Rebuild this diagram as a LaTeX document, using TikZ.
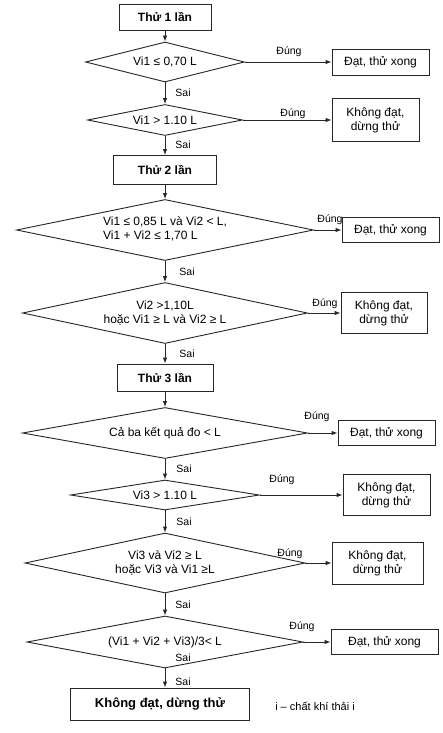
\documentclass[tikz,border=0pt]{standalone}
\usepackage{fontspec}
\setmainfont{Liberation Sans}
\usetikzlibrary{shapes.geometric,arrows.meta}
\begin{document}
\begin{tikzpicture}[x=1pt,y=-1pt,
  every node/.style={inner sep=0pt},
  line/.style={draw=black!85, line width=0.9pt},
  arr/.style={line, -{Latex[length=6pt,width=4.5pt]}},
  dia/.style={diamond, draw=black!85, line width=0.9pt, aspect=5, align=center,
              font=\fontsize{12}{14}\selectfont},
  headbox/.style={rectangle, draw=black!85, line width=0.9pt, align=center,
              font=\fontsize{12}{14}\selectfont\bfseries},
  resbox/.style={rectangle, draw=black!85, line width=0.9pt, align=center,
              font=\fontsize{12}{14}\selectfont},
  lbl/.style={font=\fontsize{10.5}{12}\selectfont}]
\useasboundingbox[fill=white] (0,0) rectangle (443,733);

% --- first test
\node[headbox, minimum width=92, minimum height=26] (t1) at (165,17) {Thử 1 lần};
\node[dia, minimum width=159, minimum height=40] (d1) at (165,62) {Vi1 ≤ 0,70 L};
\node[resbox, minimum width=97, minimum height=26] (r1) at (380.5,62) {Đạt, thử xong};
\node[dia, minimum width=155, minimum height=31] (d2) at (165,120) {Vi1 > 1.10 L};
\node[resbox, minimum width=87, minimum height=43] (r2) at (375.5,120) {Không đạt,\\dừng thử};

% --- second test
\node[headbox, minimum width=103, minimum height=29] (t2) at (165,170) {Thử 2 lần};
\node[dia, minimum width=297, minimum height=61] (d3) at (165,230)
  {\begin{tabular}{@{}l@{}}Vi1 ≤ 0,85 L và Vi2 < L,\\ Vi1 + Vi2 ≤ 1,70 L\end{tabular}};
\node[resbox, minimum width=97, minimum height=25] (r3) at (390.5,230) {Đạt, thử xong};
\node[dia, minimum width=285, minimum height=61] (d4) at (165,313) {Vi2 >1,10L\\hoặc Vi1 ≥ L và Vi2 ≥ L};
\node[resbox, minimum width=86, minimum height=41] (r4) at (384,313) {Không đạt,\\dừng thử};

% --- third test
\node[headbox, minimum width=96, minimum height=27] (t3) at (165,377.5) {Thử 3 lần};
\node[dia, minimum width=285, minimum height=51] (d5) at (165,433) {Cả ba kết quả đo < L};
\node[resbox, minimum width=97, minimum height=25] (r5) at (386.5,433) {Đạt, thử xong};
\node[dia, minimum width=189, minimum height=30] (d6) at (165,495) {Vi3 > 1.10 L};
\node[resbox, minimum width=87, minimum height=41] (r6) at (386.5,495) {Không đạt,\\dừng thử};
\node[dia, minimum width=280, minimum height=60] (d7) at (165,563) {Vi3 và Vi2 ≥ L\\hoặc Vi3 và Vi1 ≥L};
\node[resbox, minimum width=91, minimum height=42] (r7) at (377.5,563) {Không đạt,\\dừng thử};
\node[dia, minimum width=276, minimum height=52] (d8) at (165,642) {(Vi1 + Vi2 + Vi3)/3< L};
\node[resbox, minimum width=107, minimum height=25] (r8) at (384.5,642) {Đạt, thử xong};
\node[headbox, minimum width=179, minimum height=32, font=\fontsize{13}{15}\selectfont\bfseries] (fin) at (160,704) {Không đạt, dừng thử};
\node[font=\fontsize{11}{13}\selectfont] (note) at (315,706) {i – chất khí thải i};

% --- vertical connectors
\draw[arr] (t1) -- (d1);
\draw[arr] (d1) -- (d2);
\draw[arr] (d2) -- (t2);
\draw[arr] (t2) -- (d3);
\draw[arr] (d3) -- (d4);
\draw[arr] (d4) -- (t3);
\draw[arr] (t3) -- (d5);
\draw[arr] (d5) -- (d6);
\draw[arr] (d6) -- (d7);
\draw[arr] (d7) -- (d8);
\draw[arr] (d8.south) -- (d8.south |- fin.north);

% --- horizontal connectors
\draw[arr] (d1.east) -- (r1.west);
\draw[arr] (d2.east) -- (r2.west);
\draw[arr] (d3.east) -- (r3.west);
\draw[arr] (d4.east) -- (r4.west);
\draw[arr] (d5.east) -- (r5.west);
\draw[arr] (d6.east) -- (r6.west);
\draw[arr] (d7.east) -- (r7.west);
\draw[arr] (d8.east) -- (r8.west);

% --- labels
\node[lbl] (y1) at (289,52) {Đúng};
\node[lbl] (n1) at (183,93) {Sai};
\node[lbl] (y2) at (293,114) {Đúng};
\node[lbl] (n2) at (183,145) {Sai};
\node[lbl] (y3) at (330,220) {Đúng};
\node[lbl] (n3) at (187,272) {Sai};
\node[lbl] (y4) at (325,304) {Đúng};
\node[lbl] (n4) at (187,354) {Sai};
\node[lbl] (y5) at (317,417) {Đúng};
\node[lbl] (n5) at (184,469) {Sai};
\node[lbl] (y6) at (282,480) {Đúng};
\node[lbl] (n6) at (184,522) {Sai};
\node[lbl] (y7) at (290,554) {Đúng};
\node[lbl] (n7) at (183,605) {Sai};
\node[lbl] (y8) at (302,627) {Đúng};
\node[lbl] (n8a) at (183,658) {Sai};
\node[lbl] (n8) at (183,682) {Sai};
\end{tikzpicture}
\end{document}
